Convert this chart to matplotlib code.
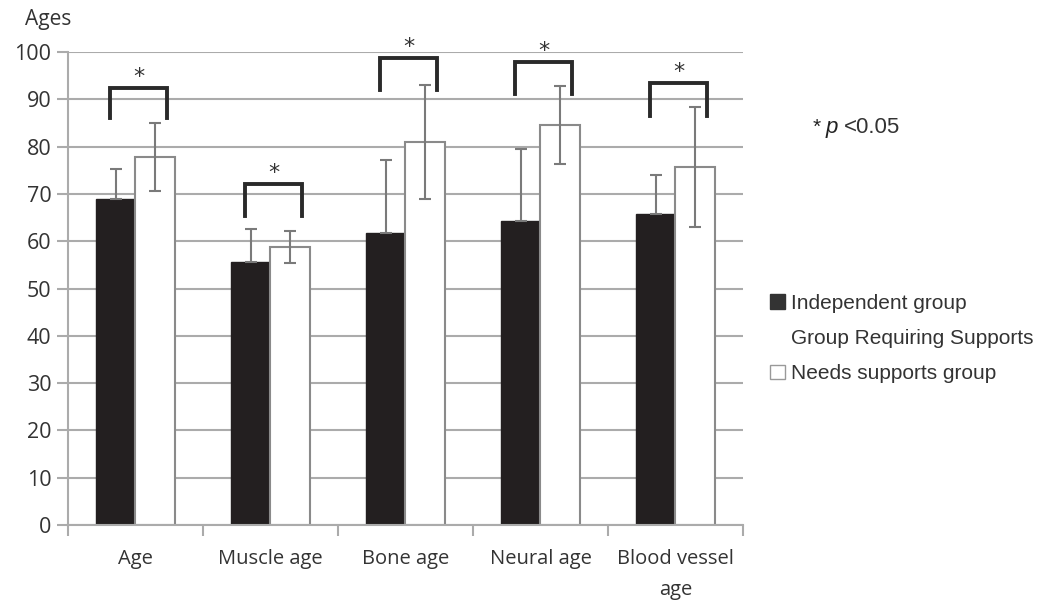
import numpy as np
import matplotlib.pyplot as plt
from matplotlib.patches import Patch

# data
categories = ['Age', 'Muscle age', 'Bone age', 'Neural age', 'Blood vessel\nage']
indep_mean = [69.0, 55.6, 61.7, 64.3, 65.8]
indep_sd = [6.3, 7.0, 15.5, 15.2, 8.2]
needs_mean = [77.8, 58.8, 81.0, 84.6, 75.7]
needs_sd = [7.2, 3.4, 12.0, 8.3, 12.6]
bracket_top = [92.4, 72.1, 98.7, 97.9, 93.4]
bracket_leg = [86.0, 65.3, 92.0, 91.1, 86.5]
y_ticks = [0, 10, 20, 30, 40, 50, 60, 70, 80, 90, 100]

tick_font = 'Open Sans'
legend_font = 'Liberation Sans'

fig = plt.figure(figsize=(10.41, 6.02), dpi=100)
ax = fig.add_axes([0.0653, 0.1279, 0.6484, 0.7857])

x = np.arange(len(categories))
w = 0.29

ax.bar(x - w / 2, indep_mean, w, color='#231f20', edgecolor='#231f20', zorder=2)
ax.bar(x + w / 2, needs_mean, w, color='white', edgecolor='#8a8a8a', linewidth=1.5, zorder=2)

ax.errorbar(x - w / 2, indep_mean, yerr=[np.zeros(len(x)), indep_sd], fmt='none',
            ecolor='#7a7a7a', elinewidth=1.5, capsize=4, capthick=1.5, zorder=3)
ax.errorbar(x + w / 2, needs_mean, yerr=needs_sd, fmt='none',
            ecolor='#7a7a7a', elinewidth=1.5, capsize=4, capthick=1.5, zorder=3)

# significance brackets
for i in range(len(x)):
    x0, x1 = x[i] - 0.19, x[i] + 0.235
    ax.plot([x0, x0, x1, x1], [bracket_leg[i], bracket_top[i], bracket_top[i], bracket_leg[i]],
            color='#2a2a2a', lw=2.8, solid_joinstyle='miter', zorder=4, clip_on=False)
    ax.text((x0 + x1) / 2, bracket_top[i] + 0.3, '*', ha='center', va='bottom',
            fontsize=16, color='#333333', zorder=4)

ax.set_xlim(-0.5, len(x) - 0.5)
ax.set_ylim(0, 100)
ax.set_yticks(y_ticks)
ax.set_xticks(x)
ax.set_xticklabels(categories, fontsize=14.5, family=tick_font, color='#333333',
                   linespacing=1.75)
for lab in ax.get_yticklabels():
    lab.set_fontsize(15.5)
    lab.set_family(tick_font)
    lab.set_color('#333333')

ax.yaxis.grid(True, color='#ababab', linewidth=1.5, zorder=0)
ax.set_axisbelow(True)
for s in ['top', 'right']:
    ax.spines[s].set_visible(False)
ax.spines['left'].set_color('#ababab')
ax.spines['left'].set_linewidth(1.5)
ax.spines['bottom'].set_color('#ababab')
ax.spines['bottom'].set_linewidth(1.5)
ax.tick_params(axis='y', length=8, width=1.5, color='#ababab', pad=4)
ax.tick_params(axis='x', length=0, pad=17)
# ticks at category boundaries
ax.set_xticks(np.arange(-0.5, len(x)), minor=True)
ax.tick_params(axis='x', which='minor', length=8, width=1.5, color='#ababab')

fig.text(0.024, 0.967, 'Ages', fontsize=15, family=tick_font, color='#333333', va='center')
fig.text(0.781, 0.788, '*', fontsize=15, family=legend_font, color='#222222', va='center')
fig.text(0.793, 0.788, 'p', fontsize=16, family=legend_font, style='italic', color='#222222', va='center')
fig.text(0.811, 0.788, '<0.05', fontsize=16, family=legend_font, color='#333333', va='center')

handles = [Patch(facecolor='#333333', edgecolor='#333333'),
           Patch(facecolor='none', edgecolor='none'),
           Patch(facecolor='white', edgecolor='#999999')]
labels = ['Independent group', 'Group Requiring Supports', 'Needs supports group']
fig.legend(handles, labels, loc='upper left', bbox_to_anchor=(0.7397, 0.512), frameon=False,
           borderpad=0, borderaxespad=0,
           prop={'family': legend_font, 'size': 15}, handlelength=0.72, handleheight=0.72,
           handletextpad=0.3, labelspacing=0.78, labelcolor='#333333')

fig.savefig('out.png', dpi=100)
